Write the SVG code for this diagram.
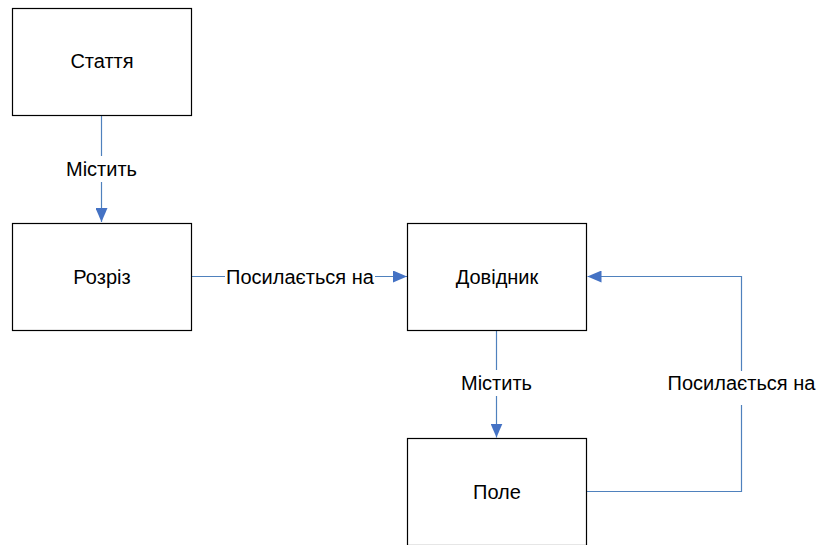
<svg xmlns="http://www.w3.org/2000/svg" width="819" height="545" viewBox="0 0 819 545">
  <defs>
    <marker id="arrow" viewBox="0 0 14 12" markerWidth="14" markerHeight="12" refX="14" refY="6" orient="auto" markerUnits="userSpaceOnUse">
      <path d="M0,0 L14,6 L0,12 Z" fill="#4472c4"/>
    </marker>
  </defs>
  <style>
    .box { fill: #ffffff; stroke: #000000; stroke-width: 1.2; }
    .node-text { font-family: "Liberation Sans", Arial, sans-serif; font-size: 20px; fill: #000000; text-anchor: middle; dominant-baseline: central; }
    .edge { fill: none; stroke: #4f81bd; stroke-width: 1.2; }
    .edge-bg { fill: #ffffff; }
    .edge-text { font-family: "Liberation Sans", Arial, sans-serif; font-size: 20px; fill: #000000; text-anchor: middle; dominant-baseline: central; }
  </style>
  <rect width="819" height="545" fill="#ffffff"/>

  <g id="connectors">
    <!-- Стаття -> Розріз -->
    <path class="edge" d="M101.5,115.5 L101.5,222" marker-end="url(#arrow)"/>
    <rect class="edge-bg" x="64" y="156" width="76" height="26"/>
    <text class="edge-text" x="101.5" y="169">Містить</text>

    <!-- Розріз -> Довідник -->
    <path class="edge" d="M192,276.5 L407,276.5" marker-end="url(#arrow)"/>
    <rect class="edge-bg" x="225" y="264" width="150" height="26"/>
    <text class="edge-text" x="300" y="277">Посилається на</text>

    <!-- Довідник -> Поле -->
    <path class="edge" d="M496.5,330.5 L496.5,437.5" marker-end="url(#arrow)"/>
    <rect class="edge-bg" x="459" y="370" width="76" height="26"/>
    <text class="edge-text" x="496.5" y="383">Містить</text>

    <!-- Поле -> Довідник -->
    <path class="edge" d="M587,491.5 L741.5,491.5 L741.5,276.5 L587.5,276.5" marker-end="url(#arrow)"/>
    <rect class="edge-bg" x="665" y="371" width="154" height="34"/>
    <text class="edge-text" x="741.5" y="383">Посилається на</text>
  </g>

  <g id="node-stattia">
    <rect class="box" x="12.5" y="8.5" width="179" height="107"/>
    <text class="node-text" x="102" y="61">Стаття</text>
  </g>
  <g id="node-rozriz">
    <rect class="box" x="12.5" y="223.5" width="179" height="107"/>
    <text class="node-text" x="102" y="277">Розріз</text>
  </g>
  <g id="node-dovidnyk">
    <rect class="box" x="407.5" y="223.5" width="179" height="107"/>
    <text class="node-text" x="497" y="277">Довідник</text>
  </g>
  <g id="node-pole">
    <rect class="box" x="407.5" y="438.5" width="179" height="107"/>
    <text class="node-text" x="497" y="492">Поле</text>
  </g>
</svg>
